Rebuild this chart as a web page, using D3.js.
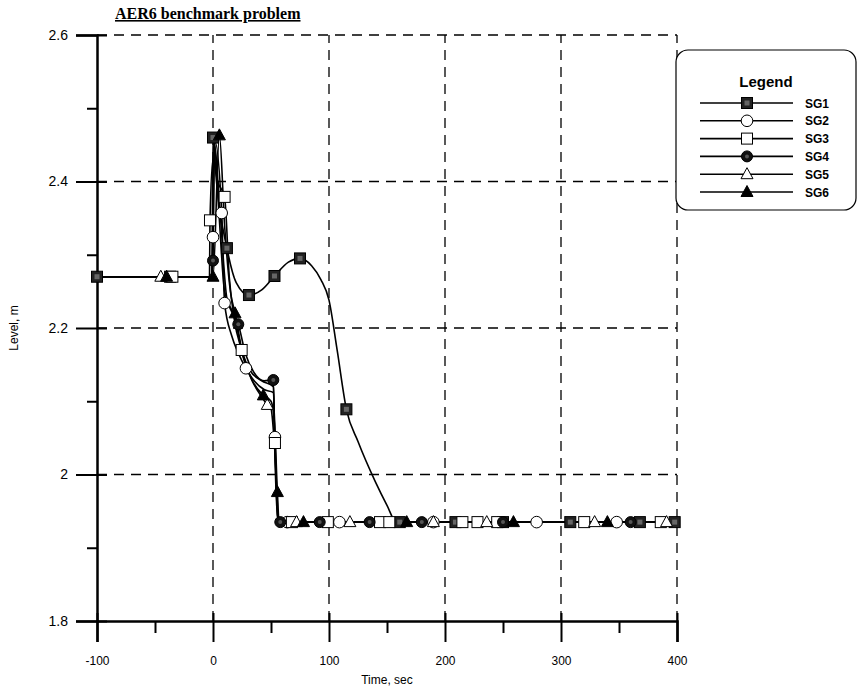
<!DOCTYPE html>
<html>
<head>
<meta charset="utf-8">
<script src="https://cdn.jsdelivr.net/npm/d3@7"></script>
<style>
  html, body { margin: 0; padding: 0; background: #fff; }
  svg { display: block; }
  text { font-family: "Liberation Sans", Arial, sans-serif; fill: #000; }
</style>
</head>
<body>
<svg id="chart" width="863" height="692"></svg>
<script>
// ---------------- DATA ----------------
const title = "AER6 benchmark problem";
const xLabel = "Time, sec";
const yLabel = "Level, m";
const legendTitle = "Legend";
const seriesNames = ["SG1", "SG2", "SG3", "SG4", "SG5", "SG6"];
const markerTypes = ["filledSquare", "openCircle", "openSquare", "filledCircle", "openTriangle", "filledTriangle"];

const xMajorTicks = [-100, 0, 100, 200, 300, 400];
const xTickLabels = ["-100", "0", "100", "200", "300", "400"];
const xMinorTicks = [-50, 50, 150, 250, 350];
const yMajorTicks = [1.8, 2.0, 2.2, 2.4, 2.6];
const yMinorTicks = [1.9, 2.1, 2.3, 2.5];
const yTickLabels = ["1.8", "2", "2.2", "2.4", "2.6"];

// line data [time, level]
const sg1Line = [[-100,2.27],[-1,2.27],[0,2.46],[3,2.40],[12,2.309],[20,2.262],[31,2.245],[42,2.252],[53,2.271],[65,2.29],[75,2.295],[85,2.285],[93,2.266],[100,2.238],[107,2.17],[115,2.089],[125,2.045],[140,1.99],[150,1.958],[158,1.935],[400,1.935]];
const sg2Line = [[-100,2.27],[-1,2.27],[0,2.324],[1.5,2.455],[7.5,2.357],[10,2.234],[16,2.19],[22,2.165],[28.4,2.145],[36,2.127],[44,2.116],[52,2.112],[53.4,2.051],[56,1.935],[400,1.935]];
const sg3Line = [[-100,2.27],[-3,2.27],[-2.6,2.347],[0,2.43],[4,2.40],[10,2.379],[14,2.27],[18,2.215],[24.7,2.17],[32,2.142],[42,2.128],[52,2.12],[53.4,2.043],[56,1.935],[400,1.935]];
const sg4Line = [[-100,2.27],[-1,2.27],[0,2.292],[1,2.455],[5,2.36],[10,2.25],[16,2.225],[21.8,2.205],[28,2.165],[35,2.14],[44,2.128],[52,2.129],[53,2.05],[56,1.935],[400,1.935]];
const sg5Line = [[-100,2.27],[-1,2.27],[1,2.45],[6,2.36],[12,2.24],[19,2.212],[26,2.16],[34,2.127],[42,2.106],[46.8,2.095],[50,2.09],[53,2.04],[57,1.935],[400,1.935]];
const sg6Line = [[-100,2.27],[-1,2.27],[0,2.27],[5.5,2.463],[10,2.34],[15,2.25],[19,2.22],[26,2.162],[34,2.128],[43.4,2.108],[50,2.1],[53,2.07],[55.5,1.976],[57,1.935],[400,1.935]];

// marker positions [time, level]
const sg1Marks = [[-100,2.27],[-37,2.27],[0,2.46],[12,2.309],[31,2.245],[53,2.271],[75,2.295],[115,2.089],[161,1.935],[209,1.935],[250,1.935],[308,1.935],[368,1.935],[398,1.935]];
const sg2Marks = [[0,2.324],[7.5,2.357],[10,2.234],[28.4,2.145],[53.4,2.051],[64,1.935],[109,1.935],[190,1.935],[279,1.935],[348,1.935]];
const sg3Marks = [[-35,2.27],[-2.6,2.347],[10,2.379],[24.7,2.17],[53.4,2.043],[68,1.935],[99,1.935],[144,1.935],[152,1.935],[215,1.935],[228,1.935],[245,1.935],[320,1.935],[386,1.935]];
const sg4Marks = [[0,2.292],[21.8,2.205],[52,2.129],[58,1.935],[92,1.935],[135,1.935],[180,1.935],[250,1.935],[360,1.935]];
const sg5Marks = [[-45,2.27],[46.8,2.095],[72,1.935],[118,1.935],[190,1.935],[236,1.935],[329,1.935],[391,1.935]];
const sg6Marks = [[-40,2.27],[0,2.27],[5.5,2.463],[19,2.22],[43.4,2.108],[55.5,1.976],[78,1.935],[167,1.935],[259,1.935],[340,1.935]];

const lines = [sg1Line, sg2Line, sg3Line, sg4Line, sg5Line, sg6Line];
const marks = [sg1Marks, sg2Marks, sg3Marks, sg4Marks, sg5Marks, sg6Marks];

// ---------------- CHART ----------------
const svg = d3.select("#chart");
svg.append("rect").attr("width", 863).attr("height", 692).attr("fill", "#fff");

const x = d3.scaleLinear().domain([-100, 400]).range([97, 677]);
const y = d3.scaleLinear().domain([1.8, 2.6]).range([621, 35]);

// dashed grid
const grid = svg.append("g").attr("stroke", "#000").attr("stroke-width", 1.3).attr("stroke-dasharray", "10,7").attr("fill", "none");
xMajorTicks.filter(d => d > -100).forEach(d => {
  grid.append("line").attr("x1", x(d)).attr("x2", x(d)).attr("y1", y(1.8)).attr("y2", y(2.6));
});
yMajorTicks.filter(d => d > 1.8).forEach(d => {
  grid.append("line").attr("x1", x(-100)).attr("x2", x(400)).attr("y1", y(d)).attr("y2", y(d));
});

// axes
const axLeft = svg.append("g").attr("transform", `translate(${x(-100)},0)`)
  .call(d3.axisLeft(y).tickValues(yMajorTicks).tickSize(21).tickPadding(8)
    .tickFormat((d, i) => yTickLabels[i]));
const axLeftIn = svg.append("g").attr("transform", `translate(${x(-100)},0)`)
  .call(d3.axisRight(y).tickValues(yMajorTicks).tickSize(10).tickFormat(""));
const axLeftMinor = svg.append("g").attr("transform", `translate(${x(-100)},0)`)
  .call(d3.axisLeft(y).tickValues(yMinorTicks).tickSize(10).tickFormat(""));

const axBottom = svg.append("g").attr("transform", `translate(0,${y(1.8)})`)
  .call(d3.axisBottom(x).tickValues(xMajorTicks).tickSize(21).tickPadding(14)
    .tickFormat((d, i) => xTickLabels[i]));
const axBottomIn = svg.append("g").attr("transform", `translate(0,${y(1.8)})`)
  .call(d3.axisTop(x).tickValues(xMajorTicks).tickSize(8).tickFormat(""));
const axBottomMinor = svg.append("g").attr("transform", `translate(0,${y(1.8)})`)
  .call(d3.axisBottom(x).tickValues(xMinorTicks).tickSize(12).tickFormat(""));

[axLeft, axLeftIn, axLeftMinor, axBottom, axBottomIn, axBottomMinor].forEach(g => {
  g.select(".domain").attr("stroke", "#000").attr("stroke-width", 2.5);
  g.selectAll(".tick line").attr("stroke", "#000").attr("stroke-width", 2);
  g.selectAll(".tick text").style("font-size", "14px").style("font-family", "'Liberation Sans', Arial, sans-serif").attr("fill", "#000");
});
[axLeftIn, axLeftMinor, axBottomIn, axBottomMinor].forEach(g => g.select(".domain").remove());
axBottom.selectAll(".tick text").style("font-size", "13px").attr("transform", "scale(0.92,1)");

// axis titles
svg.append("text").attr("x", x(150)).attr("y", 684).attr("text-anchor", "middle")
  .style("font-size", "12px").text(xLabel);
svg.append("text").attr("transform", `translate(18,${y(2.2)}) rotate(-90)`).attr("text-anchor", "middle")
  .style("font-size", "12px").text(yLabel);

// title
svg.append("text").attr("x", 115).attr("y", 19)
  .style("font-family", "'Liberation Serif', 'Times New Roman', serif").style("font-weight", "bold")
  .style("font-size", "16px").style("text-decoration", "underline").text(title);

// series lines
const lineGen = d3.line().x(d => x(d[0])).y(d => y(d[1])).curve(d3.curveMonotoneX);
const plot = svg.append("g");
lines.forEach(ld => {
  plot.append("path").datum(ld).attr("d", lineGen).attr("fill", "none")
    .attr("stroke", "#000").attr("stroke-width", 1.6);
});

// marker drawing
function drawMarker(g, type, cx, cy) {
  const s = 5.5;
  if (type === "filledSquare") {
    g.append("rect").attr("x", cx - s).attr("y", cy - s).attr("width", 2*s).attr("height", 2*s)
      .attr("fill", "#222").attr("stroke", "#000").attr("stroke-width", 1);
    g.append("rect").attr("x", cx - 2.5).attr("y", cy - 2.5).attr("width", 5).attr("height", 5).attr("fill", "#666");
  } else if (type === "openSquare") {
    g.append("rect").attr("x", cx - s).attr("y", cy - s).attr("width", 2*s).attr("height", 2*s)
      .attr("fill", "#fff").attr("stroke", "#000").attr("stroke-width", 1);
  } else if (type === "openCircle") {
    g.append("circle").attr("cx", cx).attr("cy", cy).attr("r", 5.8)
      .attr("fill", "#fff").attr("stroke", "#000").attr("stroke-width", 1);
  } else if (type === "filledCircle") {
    g.append("circle").attr("cx", cx).attr("cy", cy).attr("r", 5.5)
      .attr("fill", "#111").attr("stroke", "#000").attr("stroke-width", 1);
    g.append("circle").attr("cx", cx).attr("cy", cy).attr("r", 2).attr("fill", "#555");
  } else if (type === "openTriangle") {
    g.append("path").attr("d", `M${cx},${cy - 6.5}L${cx + 6},${cy + 4.5}L${cx - 6},${cy + 4.5}Z`)
      .attr("fill", "#fff").attr("stroke", "#000").attr("stroke-width", 1);
  } else if (type === "filledTriangle") {
    g.append("path").attr("d", `M${cx},${cy - 6.5}L${cx + 6},${cy + 4.5}L${cx - 6},${cy + 4.5}Z`)
      .attr("fill", "#000").attr("stroke", "#000").attr("stroke-width", 1);
  }
}

marks.forEach((md, i) => {
  const g = plot.append("g");
  md.forEach(d => drawMarker(g, markerTypes[i], x(d[0]), y(d[1])));
});

// legend
const lg = svg.append("g");
lg.append("rect").attr("x", 676).attr("y", 50).attr("width", 180).attr("height", 160)
  .attr("rx", 12).attr("ry", 12).attr("fill", "#fff").attr("stroke", "#000").attr("stroke-width", 1.2);
lg.append("text").attr("x", 766).attr("y", 87).attr("text-anchor", "middle")
  .style("font-size", "15px").style("font-weight", "bold").text(legendTitle);
seriesNames.forEach((name, i) => {
  const ly = 103 + i * 17.8;
  lg.append("line").attr("x1", 700).attr("x2", 793).attr("y1", ly).attr("y2", ly)
    .attr("stroke", "#000").attr("stroke-width", 1.6);
  drawMarker(lg, markerTypes[i], 747, ly);
  lg.append("text").attr("x", 805).attr("y", ly + 4.5)
    .style("font-size", "12px").style("font-weight", "bold").text(name);
});
</script>
</body>
</html>
